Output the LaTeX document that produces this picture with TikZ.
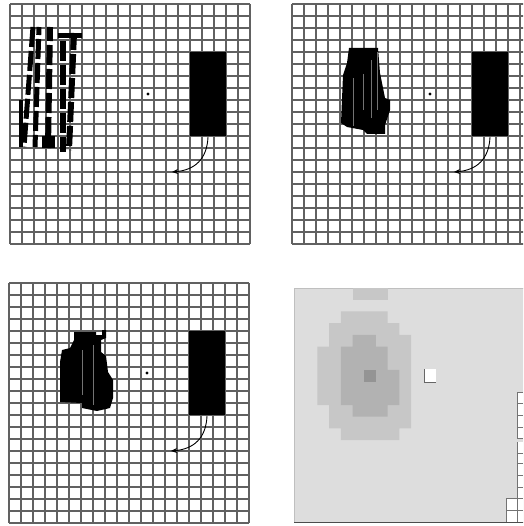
\documentclass[tikz,border=0pt]{standalone}
\usetikzlibrary{arrows.meta}
\definecolor{bgA}{gray}{0.865}
\definecolor{lvA}{gray}{0.78}
\definecolor{lvB}{gray}{0.70}
\definecolor{lvC}{gray}{0.58}
\newcommand\panelparts[2]{%
  \begin{scope}[shift={(#1,#2)}]
    \foreach \k in {0,...,20}{
      \draw[gridline] (\k*12,0) -- (\k*12,240);
      \draw[gridline] (0,\k*12) -- (240,\k*12);
    }
    \fill[black] (180,48) rectangle (216,132);
    \fill[black] (138,90) circle (1.6);
    \coordinate (s) at (198,133);
    \coordinate (e) at (162,168);
    \draw[arr] (s) .. controls (197,155) and (185,166) .. (e);
  \end{scope}}
\begin{document}
\begin{tikzpicture}[x=1pt,y=-1pt,
  gridline/.style={line width=1.3pt, black!62},
  arr/.style={line width=0.9pt, -{Stealth[length=6pt,width=5pt]}},
  streak/.style={line width=0.7pt, white!45!black},
  bar/.style={dash pattern=on 20pt off 4pt}]
\useasboundingbox (0,0) rectangle (523,526);
\clip (0,0) rectangle (523,526);
\fill[white] (0,0) rectangle (523,526);

% ---- three grid panels
\panelparts{10}{4}
\panelparts{292}{4}
\panelparts{9}{283}

% ---- top-left striped figure
\draw[bar, line width=5pt, dash phase=0pt]  (33,27) -- (24,147);
\draw[bar, line width=5pt, dash phase=12pt] (39,27) -- (35,147);
\draw[bar, line width=6pt, dash phase=6pt]  (50,27) -- (48,148);
\draw[bar, line width=6pt, dash phase=16pt] (63,33) -- (63,152);
\draw[bar, line width=6pt, dash phase=3pt]  (74,33) -- (69,150);
\fill[black] (58,33) rectangle (82,38);
\fill[black] (19,100) rectangle (23,147);
\fill[black] (42,136) rectangle (55,148);

% ---- top-right blob
\fill[black] (349,48) -- (378,48) -- (380,73) -- (383,88) -- (385,98) -- (390,100)
  -- (390,110) -- (385,125) -- (385,134) -- (367,134) -- (363,130) -- (347,127)
  -- (341,123) -- (343,75) -- (347,63) -- cycle;
\draw[streak] (353,78) -- (353,126);
\draw[streak] (363,74) -- (363,110);
\draw[streak] (371,60) -- (371,118);
\draw[streak] (377,52) -- (377,110);

% ---- bottom-left blob
\fill[black] (74,332) -- (96,332) -- (96,335) -- (102,335) -- (102,330) -- (106,330)
  -- (106,338) -- (101,340) -- (101,352) -- (106,356) -- (108,372) -- (113,380)
  -- (113,398) -- (110,408) -- (97,411) -- (82,408) -- (82,403) -- (60,402)
  -- (60,362) -- (62,350) -- (70,348) -- (74,340) -- cycle;
\draw[streak] (82,350) -- (82,395);
\draw[streak] (93,345) -- (93,405);

% ---- bottom-right map
\fill[bgA] (294,288) rectangle (530,522);
\draw[black!25, line width=0.6pt] (294,522) -- (294,288) -- (530,288);
\draw[black!70, line width=1pt] (294,522) -- (530,522);
\begin{scope}[shift={(294,288)}, x=11.7pt, y=-11.7pt]
  \fill[lvA] (5,0) rectangle (8,1);
  \fill[lvA] (4,2) -- (8,2) -- (8,3) -- (9,3) -- (9,4) -- (10,4) -- (10,12) -- (9,12)
    -- (9,13) -- (4,13) -- (4,12) -- (3,12) -- (3,10) -- (2,10) -- (2,5) -- (3,5)
    -- (3,3) -- (4,3) -- cycle;
  \fill[lvB] (5,4) -- (7,4) -- (7,5) -- (8,5) -- (8,7) -- (9,7) -- (9,10) -- (8,10)
    -- (8,11) -- (5,11) -- (5,10) -- (4,10) -- (4,5) -- (5,5) -- cycle;
  \fill[lvC] (6,7) rectangle (7,8);
\end{scope}
\fill[white] (424,369) rectangle (436,382);
\draw[black!60, line width=0.8pt] (424,369) -- (424,382) -- (436,382);
% right-edge fragments
\fill[white] (517,392) rectangle (523,438);
\fill[white] (517,442) rectangle (523,498);
\fill[white] (506,498) rectangle (523,522);
\draw[black!55, line width=0.8pt] (517,392) -- (517,438);
\foreach \yy in {392,403,415,427,438}{\draw[black!55, line width=0.8pt] (517,\yy) -- (523,\yy);}
\draw[black!55, line width=0.8pt] (517,442) -- (517,498);
\foreach \yy in {453,463,475,487,498}{\draw[black!55, line width=0.8pt] (517,\yy) -- (523,\yy);}
\draw[black!55, line width=0.8pt] (506,498) -- (506,522);
\draw[black!55, line width=0.8pt] (517,498) -- (517,522);
\draw[black!55, line width=0.8pt] (506,498) -- (523,498);
\draw[black!55, line width=0.8pt] (506,510) -- (523,510);
\end{tikzpicture}
\end{document}
